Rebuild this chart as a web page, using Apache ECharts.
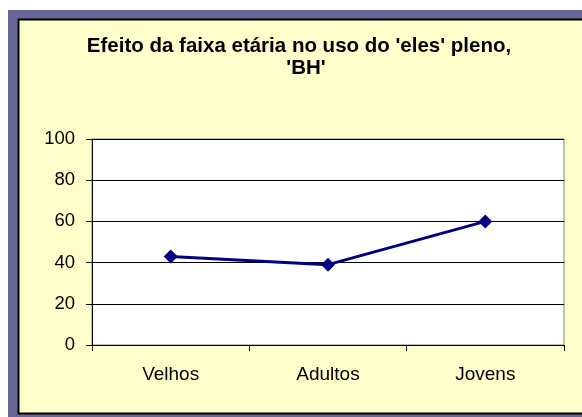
<!DOCTYPE html>
<html>
<head>
<meta charset="utf-8">
<script src="https://cdn.jsdelivr.net/npm/echarts@6/dist/echarts.min.js"></script>
<style>
html,body{margin:0;padding:0;background:#fff;}
#c{width:582px;height:417px;}
</style>
</head>
<body>
<div id="c"></div>
<script>
var titleLine1 = "Efeito da faixa etária no uso do 'eles' pleno,";
var titleLine2 = "'BH'";
var categories = ['Velhos', 'Adultos', 'Jovens'];
var values = [43, 39, 60];
var yMin = 0, yMax = 100, yStep = 20;

var FONT = 'Liberation Sans, Arial, sans-serif';
var chart = echarts.init(document.getElementById('c'), null, {renderer: 'canvas'});
chart.setOption({
  backgroundColor: '#ffffff',
  animation: false,
  graphic: [
    {type: 'rect', z: -10, silent: true, shape: {x: 8, y: 10, width: 574, height: 407}, style: {fill: '#666699'}},
    {type: 'rect', z: -9, silent: true, shape: {x: 18.5, y: 19.5, width: 570, height: 394}, style: {fill: '#FFFFCC', stroke: '#000000', lineWidth: 2}}
  ],
  title: [
    {text: titleLine1, left: 299, top: 36, padding: 0, textAlign: 'center',
     textStyle: {fontFamily: FONT, fontSize: 20.5, fontWeight: 'bold', color: '#000'}},
    {text: titleLine2, left: 306, top: 58, padding: 0, textAlign: 'center',
     textStyle: {fontFamily: FONT, fontSize: 20.5, fontWeight: 'bold', color: '#000'}}
  ],
  grid: {left: 92, top: 139, right: 18, bottom: 72, show: true, backgroundColor: '#ffffff', borderColor: '#808080', borderWidth: 1, containLabel: false},
  xAxis: {
    type: 'category', data: categories, boundaryGap: true,
    axisLine: {show: true, lineStyle: {color: '#000', width: 1}},
    axisTick: {show: true, length: 6, alignWithLabel: false, lineStyle: {color: '#000'}},
    axisLabel: {fontFamily: FONT, fontSize: 19, color: '#000', margin: 20},
    splitLine: {show: false}
  },
  yAxis: {
    type: 'value', min: yMin, max: yMax, interval: yStep,
    axisLine: {show: true, lineStyle: {color: '#000', width: 1}},
    axisTick: {show: true, length: 6, lineStyle: {color: '#000'}},
    axisLabel: {fontFamily: FONT, fontSize: 18.5, color: '#000', margin: 17},
    splitLine: {show: true, lineStyle: {color: '#000', width: 1}}
  },
  series: [{
    type: 'line', data: values,
    symbol: 'diamond', symbolSize: 14,
    lineStyle: {color: '#000080', width: 3},
    itemStyle: {color: '#000080'}
  }]
});
</script>
</body>
</html>
